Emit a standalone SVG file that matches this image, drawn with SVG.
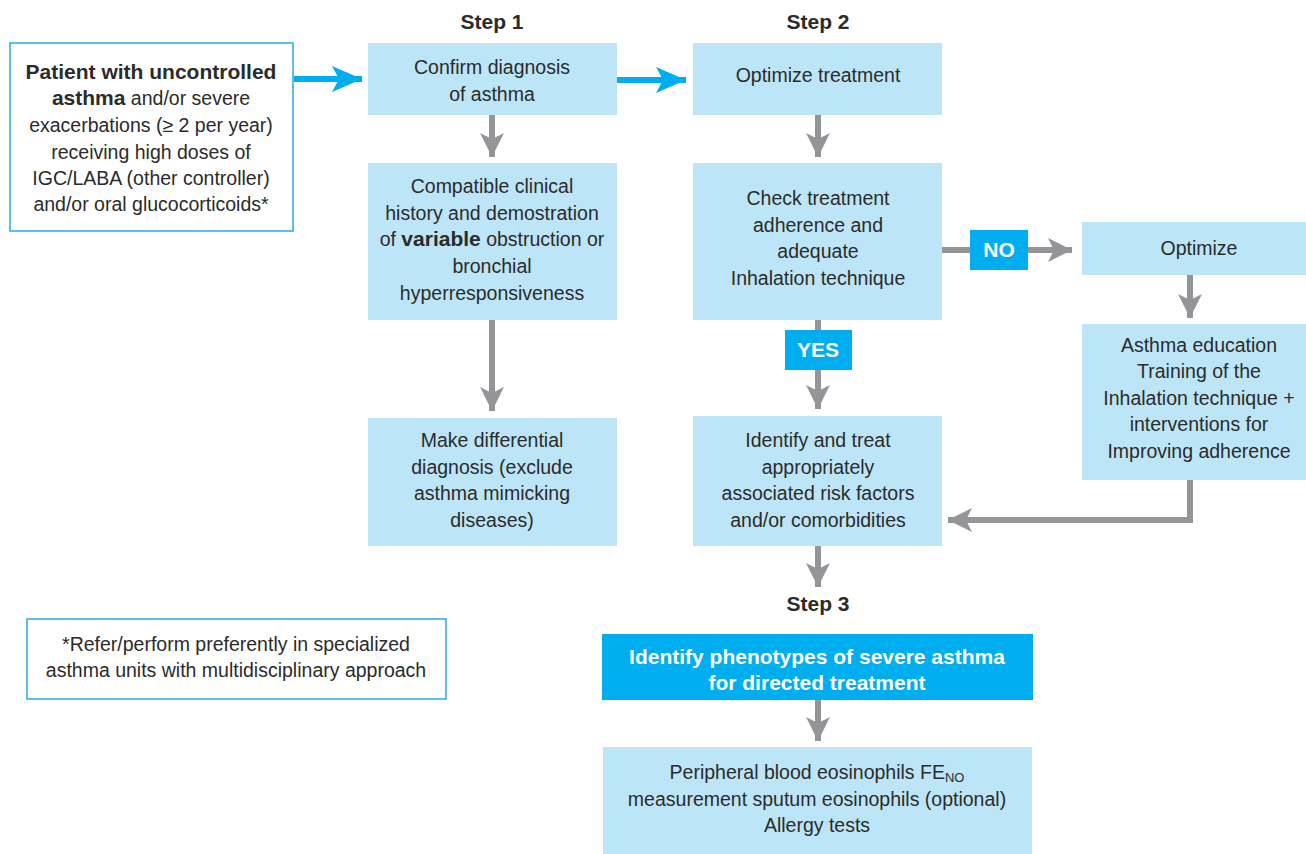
<svg xmlns="http://www.w3.org/2000/svg" width="1306" height="854" viewBox="0 0 1306 854">
<defs>
<style>
text{font-family:"Liberation Sans",Arial,sans-serif;font-size:19.5px;fill:#2b2b2b;text-anchor:middle}
.b{font-weight:bold;font-size:21px}
.hd{font-weight:bold;font-size:21px}
.lb{fill:#bde5f8}
.wb{fill:#ffffff;stroke:#29abe2;stroke-width:1.5}
.gl{stroke:#939598;stroke-width:6;fill:none}
.bl{stroke:#00aeef;stroke-width:6;fill:none}
.tag{fill:#00aeef}
.wt{fill:#ffffff;font-weight:bold;font-size:21px}
</style>
<marker id="ga" markerUnits="userSpaceOnUse" markerWidth="26" markerHeight="24" refX="24" refY="12" orient="auto">
<path d="M0,0 L24,12 L0,24 L6,12 Z" fill="#939598"/>
</marker>
<marker id="ba" markerUnits="userSpaceOnUse" markerWidth="32" markerHeight="26" refX="30" refY="13" orient="auto">
<path d="M0,0 L30,13 L0,26 L7,13 Z" fill="#00aeef"/>
</marker>
</defs>

<g id="headers">
<text class="hd" x="492" y="29">Step 1</text>
<text class="hd" x="818" y="29">Step 2</text>
<text class="hd" x="818" y="611">Step 3</text>
</g>

<g id="connectors">
<line class="bl" x1="294" y1="79" x2="362" y2="79" marker-end="url(#ba)"/>
<line class="bl" x1="617" y1="80" x2="686" y2="80" marker-end="url(#ba)"/>
<line class="gl" x1="492" y1="115" x2="492" y2="157" marker-end="url(#ga)"/>
<line class="gl" x1="492" y1="320" x2="492" y2="411" marker-end="url(#ga)"/>
<line class="gl" x1="818" y1="115" x2="818" y2="157" marker-end="url(#ga)"/>
<line class="gl" x1="942" y1="250" x2="1072" y2="250" marker-end="url(#ga)"/>
<line class="gl" x1="818" y1="320" x2="818" y2="409" marker-end="url(#ga)"/>
<line class="gl" x1="1190" y1="275" x2="1190" y2="318" marker-end="url(#ga)"/>
<polyline class="gl" points="1190,480 1190,520 948,520" marker-end="url(#ga)"/>
<line class="gl" x1="818" y1="546" x2="818" y2="587" marker-end="url(#ga)"/>
<line class="gl" x1="818" y1="700" x2="818" y2="741" marker-end="url(#ga)"/>
</g>

<g id="n-patient">
<rect class="wb" x="10" y="43" width="283" height="188"/>
<text x="151" y="79"><tspan class="b">Patient with uncontrolled</tspan></text>
<text x="151" y="105"><tspan class="b">asthma</tspan> and/or severe</text>
<text x="151" y="132">exacerbations (≥ 2 per year)</text>
<text x="151" y="159">receiving high doses of</text>
<text x="151" y="185">IGC/LABA (other controller)</text>
<text x="151" y="211">and/or oral glucocorticoids*</text>
</g>

<g id="n-confirm">
<rect class="lb" x="368" y="43" width="249" height="72"/>
<text x="492" y="74">Confirm diagnosis</text>
<text x="492" y="101">of asthma</text>
</g>

<g id="n-optimize-treatment">
<rect class="lb" x="693" y="43" width="249" height="72"/>
<text x="818" y="82">Optimize treatment</text>
</g>

<g id="n-compatible">
<rect class="lb" x="368" y="163" width="249" height="157"/>
<text x="492" y="193">Compatible clinical</text>
<text x="492" y="220">history and demostration</text>
<text x="492" y="246">of <tspan class="b">variable</tspan> obstruction or</text>
<text x="492" y="273">bronchial</text>
<text x="492" y="300">hyperresponsiveness</text>
</g>

<g id="n-differential">
<rect class="lb" x="368" y="418" width="249" height="128"/>
<text x="492" y="447">Make differential</text>
<text x="492" y="474">diagnosis (exclude</text>
<text x="492" y="500">asthma mimicking</text>
<text x="492" y="527">diseases)</text>
</g>

<g id="n-check">
<rect class="lb" x="693" y="163" width="249" height="157"/>
<text x="818" y="205">Check treatment</text>
<text x="818" y="232">adherence and</text>
<text x="818" y="258">adequate</text>
<text x="818" y="285">Inhalation technique</text>
</g>

<g id="n-no">
<rect class="tag" x="970" y="230" width="58" height="40"/>
<text class="wt" x="999" y="257">NO</text>
</g>

<g id="n-optimize">
<rect class="lb" x="1082" y="222" width="224" height="53"/>
<text x="1199" y="255">Optimize</text>
</g>

<g id="n-education">
<rect class="lb" x="1082" y="324" width="224" height="156"/>
<text x="1199" y="352">Asthma education</text>
<text x="1199" y="378">Training of the</text>
<text x="1199" y="405">Inhalation technique +</text>
<text x="1199" y="431">interventions for</text>
<text x="1199" y="458">Improving adherence</text>
</g>

<g id="n-yes">
<rect class="tag" x="785" y="330" width="67" height="40"/>
<text class="wt" x="818" y="357">YES</text>
</g>

<g id="n-identify">
<rect class="lb" x="693" y="416" width="249" height="130"/>
<text x="818" y="447">Identify and treat</text>
<text x="818" y="474">appropriately</text>
<text x="818" y="500">associated risk factors</text>
<text x="818" y="527">and/or comorbidities</text>
</g>

<g id="n-phenotypes">
<rect class="tag" x="602" y="634" width="431" height="66"/>
<text class="wt" x="817" y="664">Identify phenotypes of severe asthma</text>
<text class="wt" x="817" y="690">for directed treatment</text>
</g>

<g id="n-tests">
<rect class="lb" x="603" y="747" width="429" height="107"/>
<text x="817" y="779">Peripheral blood eosinophils FE<tspan font-size="13" dy="3">NO</tspan></text>
<text x="817" y="806">measurement sputum eosinophils (optional)</text>
<text x="817" y="832">Allergy tests</text>
</g>

<g id="n-footnote">
<rect class="wb" x="27" y="619" width="419" height="80"/>
<text x="236" y="651">*Refer/perform preferently in specialized</text>
<text x="236" y="677">asthma units with multidisciplinary approach</text>
</g>
</svg>
